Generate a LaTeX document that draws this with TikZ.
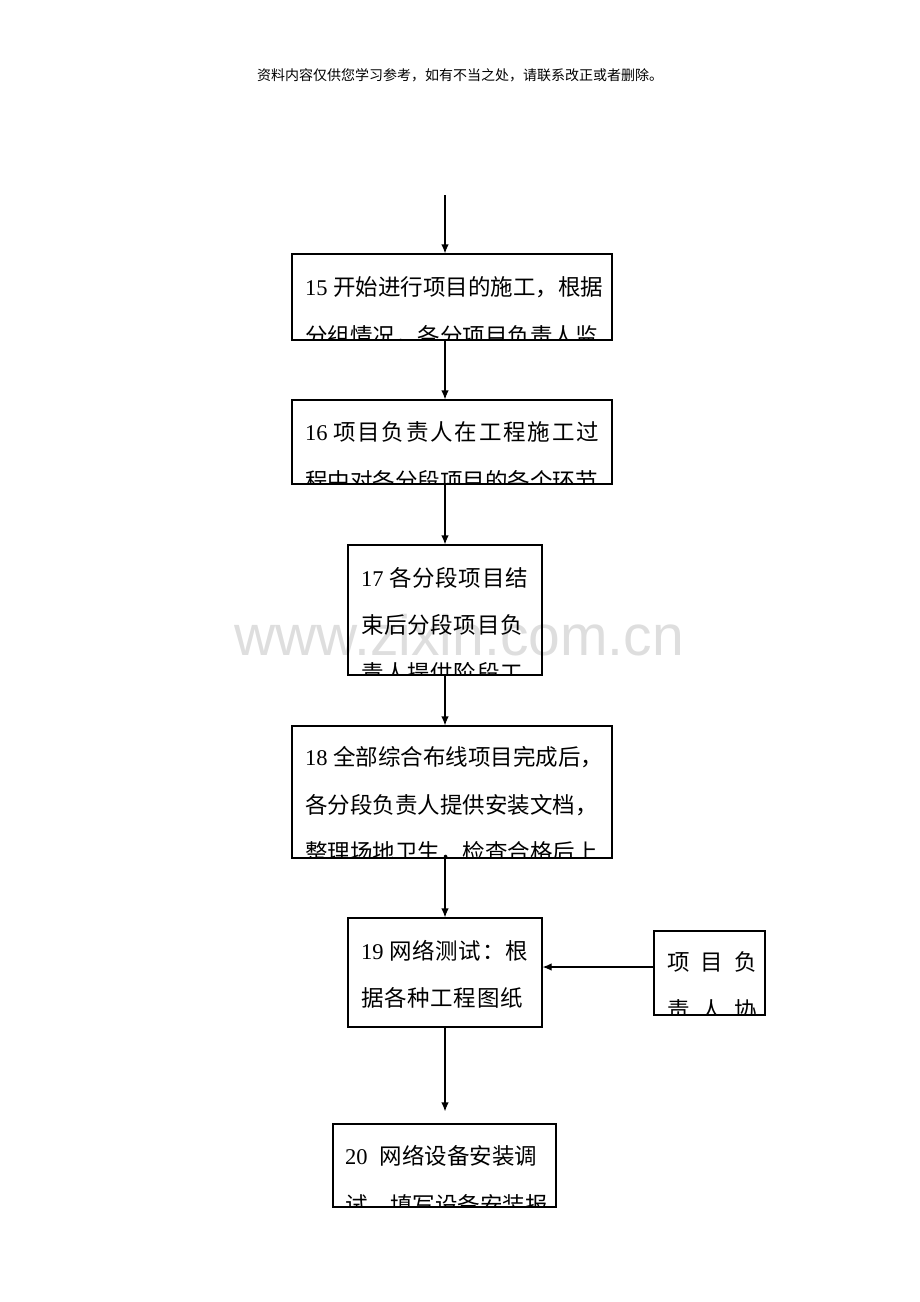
\documentclass[tikz,border=0pt]{standalone}
\usepackage{fontspec}
\setmainfont{Liberation Serif}
\newfontfamily\cjk{Noto Sans CJK SC}
\newfontfamily\wmfont{Liberation Sans}
\usetikzlibrary{arrows.meta}
\usetikzlibrary{positioning}

\tikzset{
  box/.style={draw, line width=1.2pt, inner sep=0pt},
  arr/.style={line width=1.2pt, -{Latex[length=9pt,width=7.5pt]}},
  txt/.style={anchor=west, inner sep=0pt, font=\fontsize{22.5}{27}\selectfont}
}

\begin{document}
\begin{tikzpicture}[x=1pt,y=-1pt]
  \useasboundingbox (0,0) rectangle (920,1302);

  %% header and watermark
  \node (head) at (460,75) {\cjk\fontsize{14}{16}\selectfont 资料内容仅供您学习参考，如有不当之处，请联系改正或者删除。};
  \node[text=black!13] (wm) at (459,635) {\wmfont\fontsize{57}{60}\selectfont www.zixin.com.cn};

  %% boxes
  \coordinate (start) at (445,195);
  \node[box, minimum width=320pt, minimum height=86pt] (b15) at (452,297) {};
  \node[box, minimum width=320pt, minimum height=84pt] (b16) at (452,442) {};
  \node[box, minimum width=194pt, minimum height=130pt] (b17) at (445,610) {};
  \node[box, minimum width=320pt, minimum height=132pt] (b18) at (452,792) {};
  \node[box, minimum width=194pt, minimum height=109pt] (b19) at (445,972.5) {};
  \node[box, minimum width=111pt, minimum height=84pt] (bside) at (709.5,973) {};
  \node[box, minimum width=223pt, minimum height=83pt] (b20) at (444.5,1165.5) {};

  %% box texts, cut off at the frame
  \begin{scope}
    \clip (b15.south west) rectangle (b15.north east);
    \node[txt] (t15a) at (305,287) {15 {\cjk 开始进行项目的施工，根据}};
    \node[txt] (t15b) at (305,336) {\cjk 分组情况，各分项目负责人监};
  \end{scope}
  \begin{scope}
    \clip (b16.south west) rectangle (b16.north east);
    \node[txt] (t16a) at (305,432) {16 {\cjk\addfontfeature{LetterSpace=8}项目负责人在工程施工过}};
    \node[txt] (t16b) at (305,481) {\cjk 程中对各分段项目的各个环节};
  \end{scope}
  \begin{scope}
    \clip (b17.south west) rectangle (b17.north east);
    \node[txt] (t17a) at (361,578) {17 {\cjk\addfontfeature{LetterSpace=3}各分段项目结}};
    \node[txt] (t17b) at (361,625) {\cjk\addfontfeature{LetterSpace=3}束后分段项目负};
    \node[txt] (t17c) at (361,673) {\cjk\addfontfeature{LetterSpace=3}责人提供阶段工};
  \end{scope}
  \begin{scope}
    \clip (b18.south west) rectangle (b18.north east);
    \node[txt] (t18a) at (305,757) {18 {\cjk 全部综合布线项目完成后，}};
    \node[txt] (t18b) at (305,805) {\cjk 各分段负责人提供安装文档，};
    \node[txt] (t18c) at (305,852) {\cjk 整理场地卫生，检查合格后上};
  \end{scope}
  \begin{scope}
    \clip (b19.south west) rectangle (b19.north east);
    \node[txt] (t19a) at (361,951) {19 {\cjk\addfontfeature{LetterSpace=3}网络测试：根}};
    \node[txt] (t19b) at (361,998) {\cjk\addfontfeature{LetterSpace=3}据各种工程图纸};
  \end{scope}
  \begin{scope}
    \clip (bside.south west) rectangle (bside.north east);
    \node[txt] (tsa) at (667,962) {\cjk 项\hspace{11pt}目\hspace{11pt}负};
    \node[txt] (tsb) at (667,1010) {\cjk 责\hspace{11pt}人\hspace{11pt}协};
  \end{scope}
  \begin{scope}
    \clip (b20.south west) rectangle (b20.north east);
    \node[txt] (t20a) at (345,1156) {20\hspace{12pt}{\cjk 网络设备安装调}};
    \node[txt] (t20b) at (345,1205) {\cjk 试，填写设备安装报};
  \end{scope}

  %% connectors
  \draw[arr] (start) -- (b15.north -| start);
  \draw[arr] (b15.south -| start) -- (b16.north -| start);
  \draw[arr] (b16.south -| start) -- (b17.north);
  \draw[arr] (b17.south) -- (b18.north -| start);
  \draw[arr] (b18.south -| start) -- (b19.north);
  \draw[arr, shorten >=12pt] (b19.south) -- (b20.north -| b19);
  \draw[arr] ([yshift=6pt]bside.west) -- ([yshift=6pt]bside.west -| b19.east);
\end{tikzpicture}
\end{document}
